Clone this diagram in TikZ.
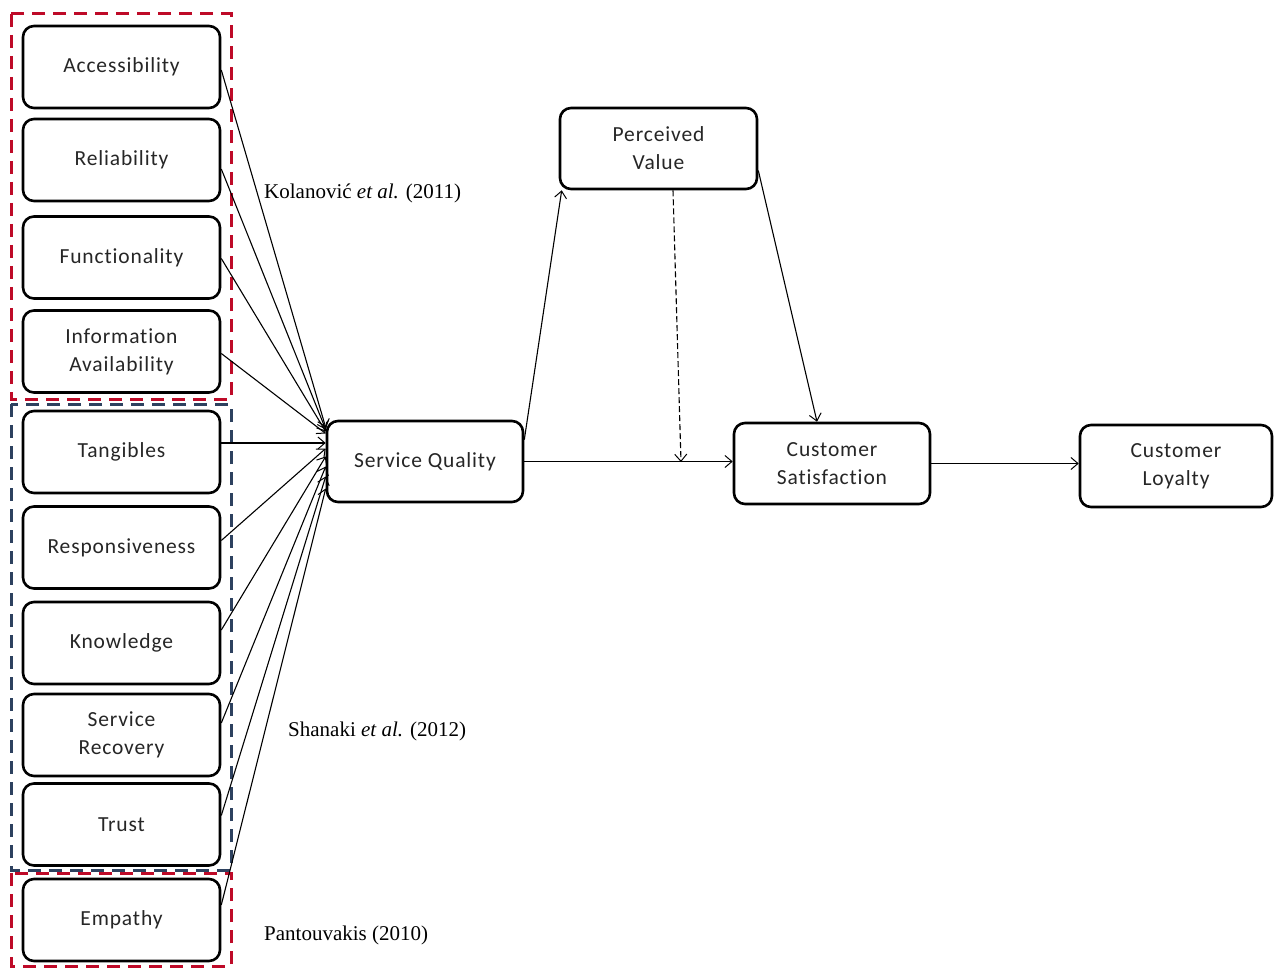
\documentclass[tikz,border=0pt]{standalone}
\usepackage{fontspec}
\setmainfont{Liberation Serif}
\newfontfamily\boxfont[LetterSpace=4,RawFeature={-liga}]{Carlito}
\usetikzlibrary{arrows.meta}
\definecolor{dred}{RGB}{190,10,40}
\definecolor{dblue}{RGB}{45,65,95}
\tikzset{
  box/.style={draw, line width=2.6pt, rounded corners=11pt, fill=white,
    minimum width=197pt, minimum height=82pt, align=center,
    font=\boxfont\fontsize{21.5}{28}\selectfont, text=black!85},
  conn/.style={line width=1.1pt, -{Straight Barb[length=7pt,width=12pt,line width=1pt]}},
  dashconn/.style={conn, dash pattern=on 6pt off 3pt},
  groupred/.style={draw=dred, line width=3pt, dash pattern=on 13pt off 8pt},
  groupblue/.style={draw=dblue, line width=3pt, dash pattern=on 13pt off 8pt},
  cite/.style={anchor=west, font=\fontsize{21}{24}\selectfont, inner sep=0pt}
}
\begin{document}
\begin{tikzpicture}[x=1pt,y=-1pt]
\useasboundingbox (0,0) rectangle (1274,968);
% group frames
\draw[groupred] (11,14) rectangle (231,399);
\draw[groupblue] (11,404) rectangle (231,870);
\draw[groupred] (11,873) rectangle (231,966);
% left boxes
\node[box] (acc) at (121.5,67) {Accessibility};
\node[box] (rel) at (121.5,160) {Reliability};
\node[box] (fun) at (121.5,257.5) {Functionality};
\node[box] (info) at (121.5,351.5) {Information\\Availability};
\node[box] (tang) at (121.5,452) {Tangibles};
\node[box] (resp) at (121.5,547.5) {Responsiveness};
\node[box] (know) at (121.5,643) {Knowledge};
\node[box] (rec) at (121.5,735) {Service\\Recovery};
\node[box] (trust) at (121.5,824.5) {Trust};
\node[box] (emp) at (121.5,920) {Empathy};
% right boxes
\node[box, minimum width=196pt, minimum height=81pt] (sq) at (425,461.5) {Service Quality};
\node[box, minimum height=81pt] (pv) at (658.5,148.5) {Perceived\\Value};
\node[box, minimum width=196pt, minimum height=81pt] (cs) at (832,463.5) {Customer\\Satisfaction};
\node[box, minimum width=192pt] (cl) at (1176,466) {Customer\\Loyalty};
% citations
\node[cite] (k) at (264,193) {Kolanovi\'c \textit{et al.} (2011)};
\node[cite] (s) at (288,731) {Shanaki \textit{et al.} (2012)};
\node[cite] (p) at (264,935) {Pantouvakis (2010)};
% connectors to service quality
\draw[conn] ([yshift=-3pt]acc.east) -- ([yshift=34pt]sq.west);
\draw[conn] ([yshift=-9pt]rel.east) -- ([yshift=32pt]sq.west);
\draw[conn] ([yshift=-1pt]fun.east) -- ([yshift=30pt]sq.west);
\draw[conn] ([yshift=-2pt]info.east) -- ([yshift=28pt]sq.west);
\draw[conn] ([yshift=9pt]tang.east) -- ([yshift=18.5pt]sq.west);
\draw[conn] ([yshift=7pt]resp.east) -- ([yshift=13pt]sq.west);
\draw[conn] ([yshift=13pt]know.east) -- ([yshift=5pt]sq.west);
\draw[conn] ([yshift=12pt]rec.east) -- ([yshift=-5pt]sq.west);
\draw[conn] ([yshift=9pt]trust.east) -- ([yshift=-15pt]sq.west);
\draw[conn] ([yshift=15pt]emp.east) -- ([yshift=-27pt]sq.west);
% main path
\draw[conn] ([yshift=-20pt]sq.north east) -- ([xshift=3pt]pv.south west);
\coordinate (mid) at (681,462);
\draw[conn] (sq.east) -- (sq.east -| cs.west);
\draw[dashconn] ([xshift=14.5pt]pv.south) -- (mid);
\draw[conn] ([yshift=-22pt]pv.east) -- ([xshift=-15pt]cs.north);
\draw[conn] (cs.east) -- (cs.east -| cl.west);
\end{tikzpicture}
\end{document}
